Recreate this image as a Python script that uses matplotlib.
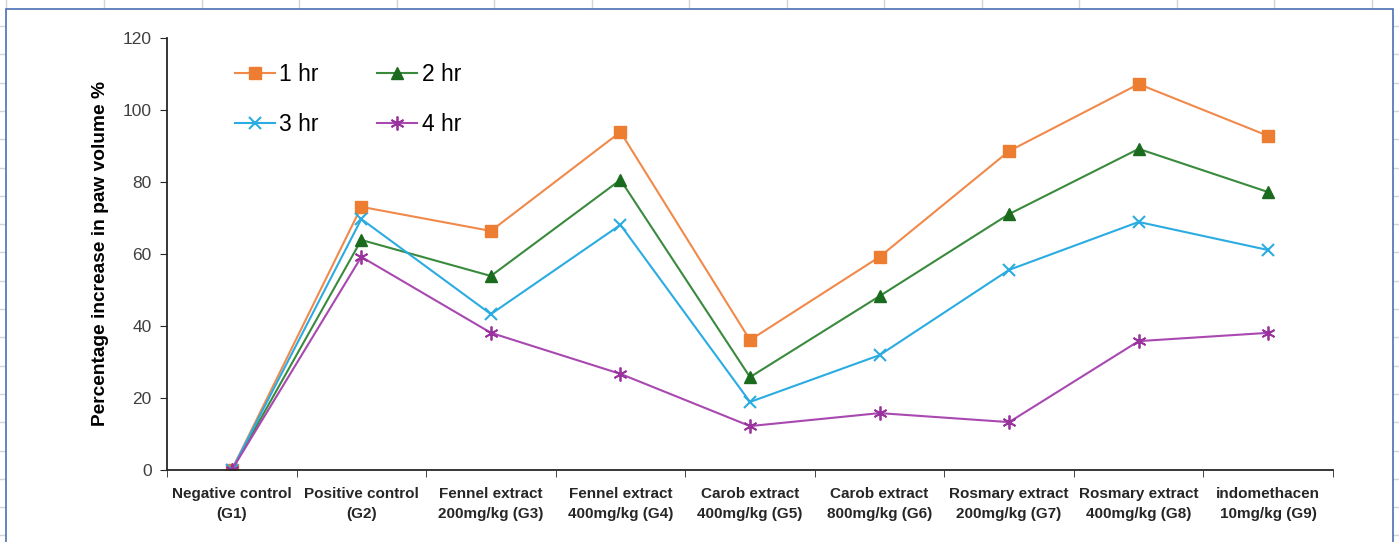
import matplotlib.pyplot as plt
from matplotlib.lines import Line2D
from matplotlib.patches import Rectangle
from matplotlib import font_manager

# data
groups = ['Negative control\n(G1)', 'Positive control\n(G2)', 'Fennel extract\n200mg/kg (G3)',
          'Fennel extract\n400mg/kg (G4)', 'Carob extract\n400mg/kg (G5)', 'Carob extract\n800mg/kg (G6)',
          'Rosmary extract\n200mg/kg (G7)', 'Rosmary extract\n400mg/kg (G8)', 'indomethacen\n10mg/kg (G9)']
hr1 = [0, 73.1, 66.4, 93.9, 36.1, 59.2, 88.6, 107.2, 92.8]
hr2 = [0, 63.9, 53.9, 80.6, 25.8, 48.3, 71.1, 89.2, 77.2]
hr3 = [0, 69.7, 43.3, 68.1, 18.9, 31.9, 55.6, 68.9, 61.1]
hr4 = [0, 59.2, 38.1, 26.7, 12.2, 15.8, 13.3, 35.8, 38.1]
y_ticks = [0, 20, 40, 60, 80, 100, 120]

plt.rcParams['font.family'] = ['Liberation Sans', 'DejaVu Sans']

W, H = 1399, 542
fig = plt.figure(figsize=(W / 100, H / 100), dpi=100)

# spreadsheet cells behind the chart
grid_c = '#d4d4d4'
for k in range(-1, 14):
    x = 104 + 97.5 * k
    fig.add_artist(Line2D([x / W, x / W], [1, 1 - 9 / H], color=grid_c, lw=1, zorder=-3))
for k in range(20):
    y = 26 + 28.3 * k
    fig.add_artist(Line2D([0, 6 / W], [1 - y / H, 1 - y / H], color=grid_c, lw=1, zorder=-3))
    fig.add_artist(Line2D([1393 / W, 1], [1 - y / H, 1 - y / H], color=grid_c, lw=1, zorder=-3))
fig.add_artist(Rectangle((6 / W, -0.05), (1393 - 6) / W, 1.05 - 9 / H, zorder=-2,
                         transform=fig.transFigure, facecolor='white', edgecolor='#4a6fb5', lw=1.2))

ax = fig.add_axes([167 / W, 1 - 470 / H, (1333 - 167) / W, (470 - 38) / H])
ax.set_facecolor('none')

x = list(range(len(groups)))
l1, = ax.plot(x, hr1, color='#F0894A', lw=1.5, marker='s', ms=8, mfc='#ED7D31', mec='#ED7D31', label='1 hr')
l2, = ax.plot(x, hr2, color='#3A8A3E', lw=1.5, marker='^', ms=9, mfc='#1B6B1E', mec='#1B6B1E', label='2 hr')
l3, = ax.plot(x, hr3, color='#2AACE2', lw=1.5, marker='x', ms=9, mew=1.5, label='3 hr')
l4, = ax.plot(x, hr4, color='#A848B0', lw=1.5, marker=(6, 2, 0), ms=10, mew=1.3,
              mec='#9B339F', label='4 hr')

ax.set_xlim(-0.5, len(groups) - 0.5)
ax.set_ylim(0, 120)
ax.set_yticks(y_ticks)
ax.set_xticks(x)
narrow = [f for f in ['Liberation Sans Narrow'] if any(
    fe.name == f for fe in font_manager.fontManager.ttflist)]
ax.set_xticklabels(groups, fontsize=11, fontweight='bold', linespacing=1.6,
                   family=narrow + ['Liberation Sans', 'DejaVu Sans'], color='#262626')
ax.set_xticks([i - 0.5 for i in range(len(groups) + 1)], minor=True)
ax.tick_params(axis='x', which='major', length=0, pad=12)
ax.tick_params(axis='x', which='minor', length=5, direction='out', color='#262626')
ax.tick_params(axis='y', length=5, direction='out', labelsize=12.5, labelcolor='#404040', color='#262626', pad=6)

for s in ['top', 'right']:
    ax.spines[s].set_visible(False)
for s in ['left', 'bottom']:
    ax.spines[s].set_color('#262626')
    ax.spines[s].set_linewidth(1.3)

ax.set_ylabel('Percentage increase in paw volume %', fontsize=13.8, fontweight='bold', labelpad=10)

# row-wise legend order: 1 hr, 2 hr / 3 hr, 4 hr
ax.legend([l1, l3, l2, l4], ['1 hr', '3 hr', '2 hr', '4 hr'], loc='upper left',
          bbox_to_anchor=(0.058, 0.943), borderpad=0, borderaxespad=0, ncol=2, frameon=False,
          fontsize=16.5, handlelength=1.75, columnspacing=2.55, labelspacing=1.2, handletextpad=0.2)

fig.savefig('out.png', dpi=100)
